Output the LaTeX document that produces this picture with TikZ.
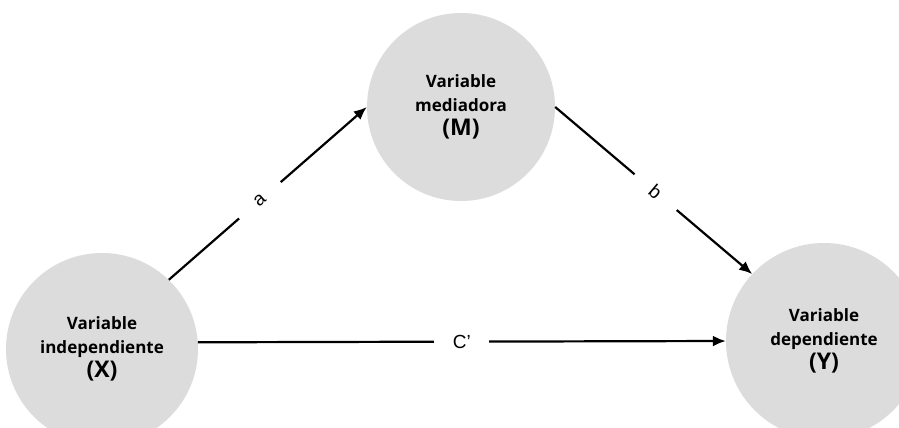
\documentclass[tikz,border=0pt]{standalone}
\usepackage{fontspec}
\setmainfont{Liberation Sans}
\newfontfamily\circfont{Open Sans}
\usetikzlibrary{arrows.meta}
\definecolor{circgray}{RGB}{220,220,220}
\tikzset{
  varnode/.style={circle, fill=circgray, minimum size=188pt, inner sep=0pt,
    align=center, font=\circfont\bfseries\fontsize{17}{24}\selectfont},
  conn/.style={line width=2.2pt, -{Latex[length=13pt,width=11pt]}},
  lbl/.style={fill=white, inner sep=0pt, minimum width=55pt, minimum height=12pt,
    font=\fontsize{19}{22}\selectfont}
}
\begin{document}
\begin{tikzpicture}[x=1pt,y=-1pt]
\useasboundingbox (0,0) rectangle (899,428);
\fill[white] (0,0) rectangle (899,428);
\node[varnode, minimum size=192pt] (X) at (102,349) {Variable\\independiente\\{\fontsize{23}{29}\selectfont(X)}};
\node[varnode] (M) at (461,107) {Variable\\mediadora\\{\fontsize{23}{29}\selectfont(M)}};
\node[varnode, minimum size=196pt] (Y) at (824,341) {Variable\\dependiente\\{\fontsize{23}{29}\selectfont(Y)}};
\draw[conn] (X.46) -- node[lbl, sloped, pos=0.46] (la) {a} (M.west);
\draw[conn] (M.east) -- node[lbl, sloped, pos=0.51] (lb) {b} (Y.137);
\draw[conn] (X.4) -- node[lbl, pos=0.5] (lc) {C’} (Y.west);
\end{tikzpicture}
\end{document}
